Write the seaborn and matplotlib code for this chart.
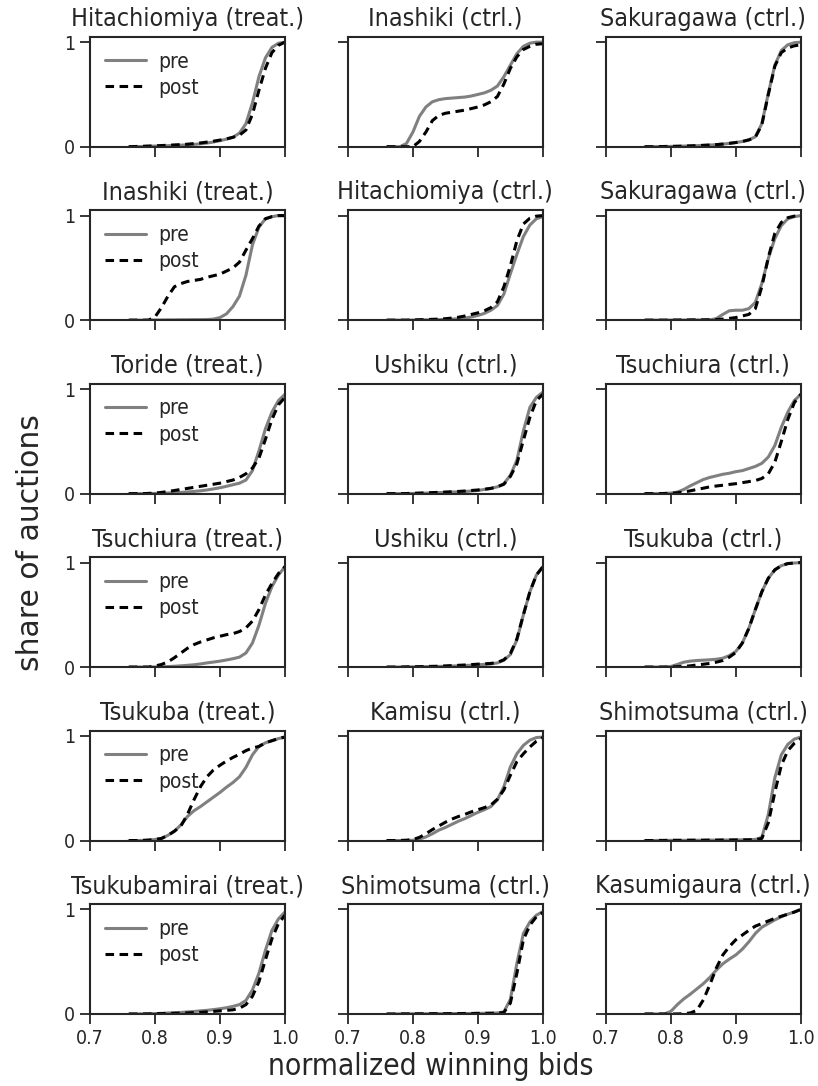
import matplotlib
matplotlib.use("Agg")
import matplotlib.pyplot as plt
import seaborn as sns

# === DONNEES ===
X_GRID = [0.76, 0.77, 0.78, 0.79, 0.80, 0.81, 0.82, 0.83, 0.84, 0.85, 0.86, 0.87, 0.88,
          0.89, 0.90, 0.91, 0.92, 0.93, 0.94, 0.95, 0.96, 0.97, 0.98, 0.99, 1.00]

TITLES = [
    "Hitachiomiya (treat.)", "Inashiki (ctrl.)", "Sakuragawa (ctrl.)",
    "Inashiki (treat.)", "Hitachiomiya (ctrl.)", "Sakuragawa (ctrl.)",
    "Toride (treat.)", "Ushiku (ctrl.)", "Tsuchiura (ctrl.)",
    "Tsuchiura (treat.)", "Ushiku (ctrl.)", "Tsukuba (ctrl.)",
    "Tsukuba (treat.)", "Kamisu (ctrl.)", "Shimotsuma (ctrl.)",
    "Tsukubamirai (treat.)", "Shimotsuma (ctrl.)", "Kasumigaura (ctrl.)",
]

hitachiomiya_t_pre = [0, 0, .002, .004, .006, .008, .01, .012, .015, .018, .022, .028, .035,
                      .045, .058, .072, .09, .13, .22, .42, .67, .85, .95, .99, 1.0]
hitachiomiya_t_post = [0, .002, .004, .006, .008, .011, .014, .017, .02, .024, .03, .036, .044,
                       .053, .063, .075, .09, .11, .16, .31, .54, .75, .90, .97, 1.0]

inashiki_c1_pre = [0, 0, 0, .03, .14, .29, .38, .43, .45, .46, .465, .47, .475,
                   .485, .50, .515, .54, .58, .67, .78, .89, .96, .99, 1.0, 1.0]
inashiki_c1_post = [0, 0, 0, 0, 0, .05, .14, .25, .30, .32, .33, .34, .35,
                    .365, .38, .40, .43, .48, .60, .75, .86, .93, .96, .98, .985]

sakuragawa_c1_pre = [0, 0, .001, .002, .003, .004, .006, .008, .01, .013, .016, .02, .025,
                     .032, .04, .05, .065, .095, .22, .51, .78, .92, .975, .995, 1.0]
sakuragawa_c1_post = [0, 0, .001, .002, .003, .004, .006, .008, .01, .013, .016, .02, .025,
                      .032, .04, .05, .065, .09, .21, .50, .77, .90, .945, .965, .975]

inashiki_t_pre = [0, 0, 0, .001, .002, .002, .003, .003, .004, .004, .005, .005, .006,
                  .01, .025, .06, .13, .23, .43, .72, .89, .97, .99, 1.0, 1.0]
inashiki_t_post = [0, 0, 0, 0, .03, .12, .23, .32, .35, .37, .38, .39, .41,
                   .425, .44, .47, .50, .555, .67, .78, .90, .97, .99, 1.0, 1.0]

hitachiomiya_c_pre = [0, 0, 0, 0, .001, .002, .003, .004, .005, .007, .01, .014, .02,
                      .03, .045, .065, .095, .14, .25, .445, .63, .80, .91, .97, .99]
hitachiomiya_c_post = [0, 0, 0, 0, .002, .004, .006, .008, .01, .014, .02, .028, .04,
                       .055, .07, .09, .12, .175, .32, .52, .76, .92, .975, .995, 1.0]

sakuragawa_c2_pre = [0, 0, 0, 0, .001, .001, .001, .002, .002, .002, .003, .015, .055,
                     .09, .095, .095, .11, .17, .35, .59, .78, .905, .97, .99, 1.0]
sakuragawa_c2_post = [0, 0, 0, 0, .001, .001, .002, .002, .003, .003, .004, .006, .01,
                      .017, .025, .04, .055, .11, .32, .60, .83, .935, .98, .995, 1.0]

toride_t_pre = [0, 0, 0, .001, .002, .004, .006, .009, .012, .016, .021, .027, .035,
                .045, .056, .07, .085, .10, .13, .22, .41, .62, .78, .89, .95]
toride_t_post = [0, 0, 0, .002, .005, .012, .02, .03, .04, .05, .06, .07, .08,
                 .09, .10, .115, .13, .155, .19, .245, .34, .52, .71, .85, .92]

ushiku_c1_pre = [0, 0, 0, .001, .002, .003, .005, .007, .01, .012, .015, .017, .02,
                 .025, .03, .04, .05, .065, .095, .175, .32, .60, .825, .92, .97]
ushiku_c1_post = [0, 0, 0, .001, .003, .005, .007, .01, .012, .015, .018, .021, .025,
                  .03, .035, .042, .05, .065, .09, .165, .285, .51, .73, .89, .95]

tsuchiura_c_pre = [0, 0, 0, .002, .005, .015, .04, .075, .105, .135, .155, .17, .185,
                   .195, .21, .22, .24, .26, .29, .35, .46, .635, .78, .89, .95]
tsuchiura_c_post = [0, 0, 0, .001, .003, .008, .015, .027, .04, .052, .065, .073, .08,
                    .088, .095, .105, .115, .125, .145, .19, .30, .50, .71, .87, .95]

tsuchiura_t_pre = [0, 0, 0, 0, .001, .003, .005, .008, .012, .017, .022, .03, .04,
                   .048, .057, .068, .08, .095, .135, .23, .40, .61, .77, .88, .96]
tsuchiura_t_post = [0, 0, 0, 0, .01, .025, .05, .09, .135, .18, .215, .24, .26,
                    .28, .295, .31, .32, .34, .375, .44, .55, .69, .80, .895, .96]

ushiku_c2_pre = [0, 0, 0, .001, .002, .003, .004, .005, .006, .008, .01, .012, .015,
                 .018, .022, .026, .03, .04, .065, .12, .26, .50, .72, .88, .96]
ushiku_c2_post = [0, 0, 0, .002, .003, .004, .006, .007, .008, .011, .014, .017, .02,
                  .024, .028, .031, .035, .045, .07, .13, .27, .50, .72, .88, .96]

tsukuba_c_pre = [0, 0, 0, .001, .006, .025, .047, .057, .063, .066, .07, .075, .085,
                 .11, .15, .23, .37, .55, .72, .85, .93, .97, .99, .995, 1.0]
tsukuba_c_post = [0, 0, 0, 0, .002, .004, .006, .012, .02, .027, .035, .047, .063,
                  .095, .14, .23, .37, .55, .72, .85, .93, .97, .99, .995, 1.0]

tsukuba_t_pre = [0, 0, .001, .004, .01, .02, .05, .09, .15, .23, .285, .325, .37,
                 .415, .46, .51, .555, .61, .70, .82, .90, .935, .955, .975, .99]
tsukuba_t_post = [0, 0, .001, .004, .01, .02, .05, .09, .14, .25, .39, .515, .61,
                  .675, .72, .76, .795, .825, .86, .885, .90, .935, .955, .975, .99]

kamisu_c_pre = [0, 0, 0, .001, .003, .013, .035, .065, .10, .125, .155, .185, .21,
                .24, .27, .295, .325, .39, .515, .705, .83, .91, .96, .985, .99]
kamisu_c_post = [0, 0, .001, .003, .01, .03, .065, .105, .14, .175, .205, .23, .25,
                 .275, .295, .315, .34, .395, .485, .625, .755, .83, .895, .95, .985]

shimotsuma_c1_pre = [0, 0, .001, .001, .002, .002, .002, .003, .003, .003, .004, .004, .005,
                     .005, .006, .007, .008, .01, .03, .25, .60, .82, .92, .97, .99]
shimotsuma_c1_post = [0, 0, .001, .001, .002, .002, .002, .003, .003, .003, .004, .004, .005,
                      .005, .006, .006, .007, .008, .02, .17, .46, .72, .86, .93, .975]

tsukubamirai_t_pre = [0, 0, .001, .002, .004, .006, .01, .012, .015, .02, .024, .03, .035,
                      .042, .05, .06, .073, .09, .13, .23, .39, .61, .80, .91, .975]
tsukubamirai_t_post = [0, 0, 0, .001, .003, .004, .005, .007, .008, .01, .013, .016, .02,
                       .025, .03, .035, .04, .055, .09, .17, .31, .52, .72, .865, .945]

shimotsuma_c2_pre = [0, 0, .001, .001, .002, .002, .002, .003, .003, .003, .004, .004, .005,
                     .005, .006, .007, .008, .01, .02, .14, .485, .77, .88, .945, .98]
shimotsuma_c2_post = [0, 0, .001, .001, .002, .002, .002, .003, .003, .003, .004, .004, .005,
                      .005, .006, .006, .007, .008, .015, .105, .39, .71, .85, .93, .97]

kasumigaura_c_pre = [0, 0, 0, 0, .025, .09, .145, .19, .24, .29, .35, .42, .48,
                     .525, .565, .62, .69, .77, .83, .865, .90, .93, .955, .975, 1.0]
kasumigaura_c_post = [0, 0, 0, 0, 0, .001, .003, .01, .035, .135, .28, .44, .565,
                      .645, .71, .755, .80, .84, .865, .89, .915, .935, .955, .975, 1.0]

CURVES = [
    (hitachiomiya_t_pre, hitachiomiya_t_post), (inashiki_c1_pre, inashiki_c1_post),
    (sakuragawa_c1_pre, sakuragawa_c1_post),
    (inashiki_t_pre, inashiki_t_post), (hitachiomiya_c_pre, hitachiomiya_c_post),
    (sakuragawa_c2_pre, sakuragawa_c2_post),
    (toride_t_pre, toride_t_post), (ushiku_c1_pre, ushiku_c1_post),
    (tsuchiura_c_pre, tsuchiura_c_post),
    (tsuchiura_t_pre, tsuchiura_t_post), (ushiku_c2_pre, ushiku_c2_post),
    (tsukuba_c_pre, tsukuba_c_post),
    (tsukuba_t_pre, tsukuba_t_post), (kamisu_c_pre, kamisu_c_post),
    (shimotsuma_c1_pre, shimotsuma_c1_post),
    (tsukubamirai_t_pre, tsukubamirai_t_post), (shimotsuma_c2_pre, shimotsuma_c2_post),
    (kasumigaura_c_pre, kasumigaura_c_post),
]

X_TICKS = [0.7, 0.8, 0.9, 1.0]
X_TICKLABELS = ["0.7", "0.8", "0.9", "1.0"]
Y_TICKS = [0, 1]
Y_TICKLABELS = ["0", "1"]

# === STYLE ===
sns.set_style("ticks")
plt.rcParams["font.family"] = ["DejaVu Sans"]
plt.rcParams["font.stretch"] = "condensed"
plt.rcParams["axes.linewidth"] = 1.5
plt.rcParams["xtick.major.size"] = 7
plt.rcParams["ytick.major.size"] = 7
plt.rcParams["xtick.major.width"] = 1.3
plt.rcParams["ytick.major.width"] = 1.3

fig, axes = plt.subplots(6, 3, figsize=(8.18, 10.86), dpi=100, sharex=True, sharey=True)
fig.subplots_adjust(left=0.110, right=0.979, top=0.966, bottom=0.0663, wspace=0.323, hspace=0.58)

for i, ax in enumerate(axes.flat):
    pre, post = CURVES[i]
    sns.lineplot(x=X_GRID, y=pre, color="grey", linewidth=2.2, label="pre", legend=False, ax=ax)
    sns.lineplot(x=X_GRID, y=post, color="black", linewidth=2.2, linestyle=(0, (2.8, 1.8)),
                 label="post", legend=False, ax=ax)
    ax.set_title(TITLES[i], fontsize=18, pad=8)
    ax.set_xlim(0.7, 1.0)
    ax.set_ylim(0, 1.05)
    ax.set_xticks(X_TICKS, labels=X_TICKLABELS)
    ax.set_yticks(Y_TICKS, labels=Y_TICKLABELS)
    ax.tick_params(labelsize=14)
    ax.set_xlabel("")
    ax.set_ylabel("")
    if i % 3 == 0:
        ax.legend(loc="upper left", frameon=False, fontsize=15, labelspacing=0.3,
                  borderaxespad=0.3, handletextpad=0.6)

fig.text(0.526, 0.0175, "normalized winning bids", ha="center", va="center", fontsize=21.5)
fig.text(0.037, 0.5, "share of auctions", ha="center", va="center", rotation=90,
         fontsize=21.5, fontstretch="normal")

plt.savefig("out.png", dpi=100)
plt.close()
